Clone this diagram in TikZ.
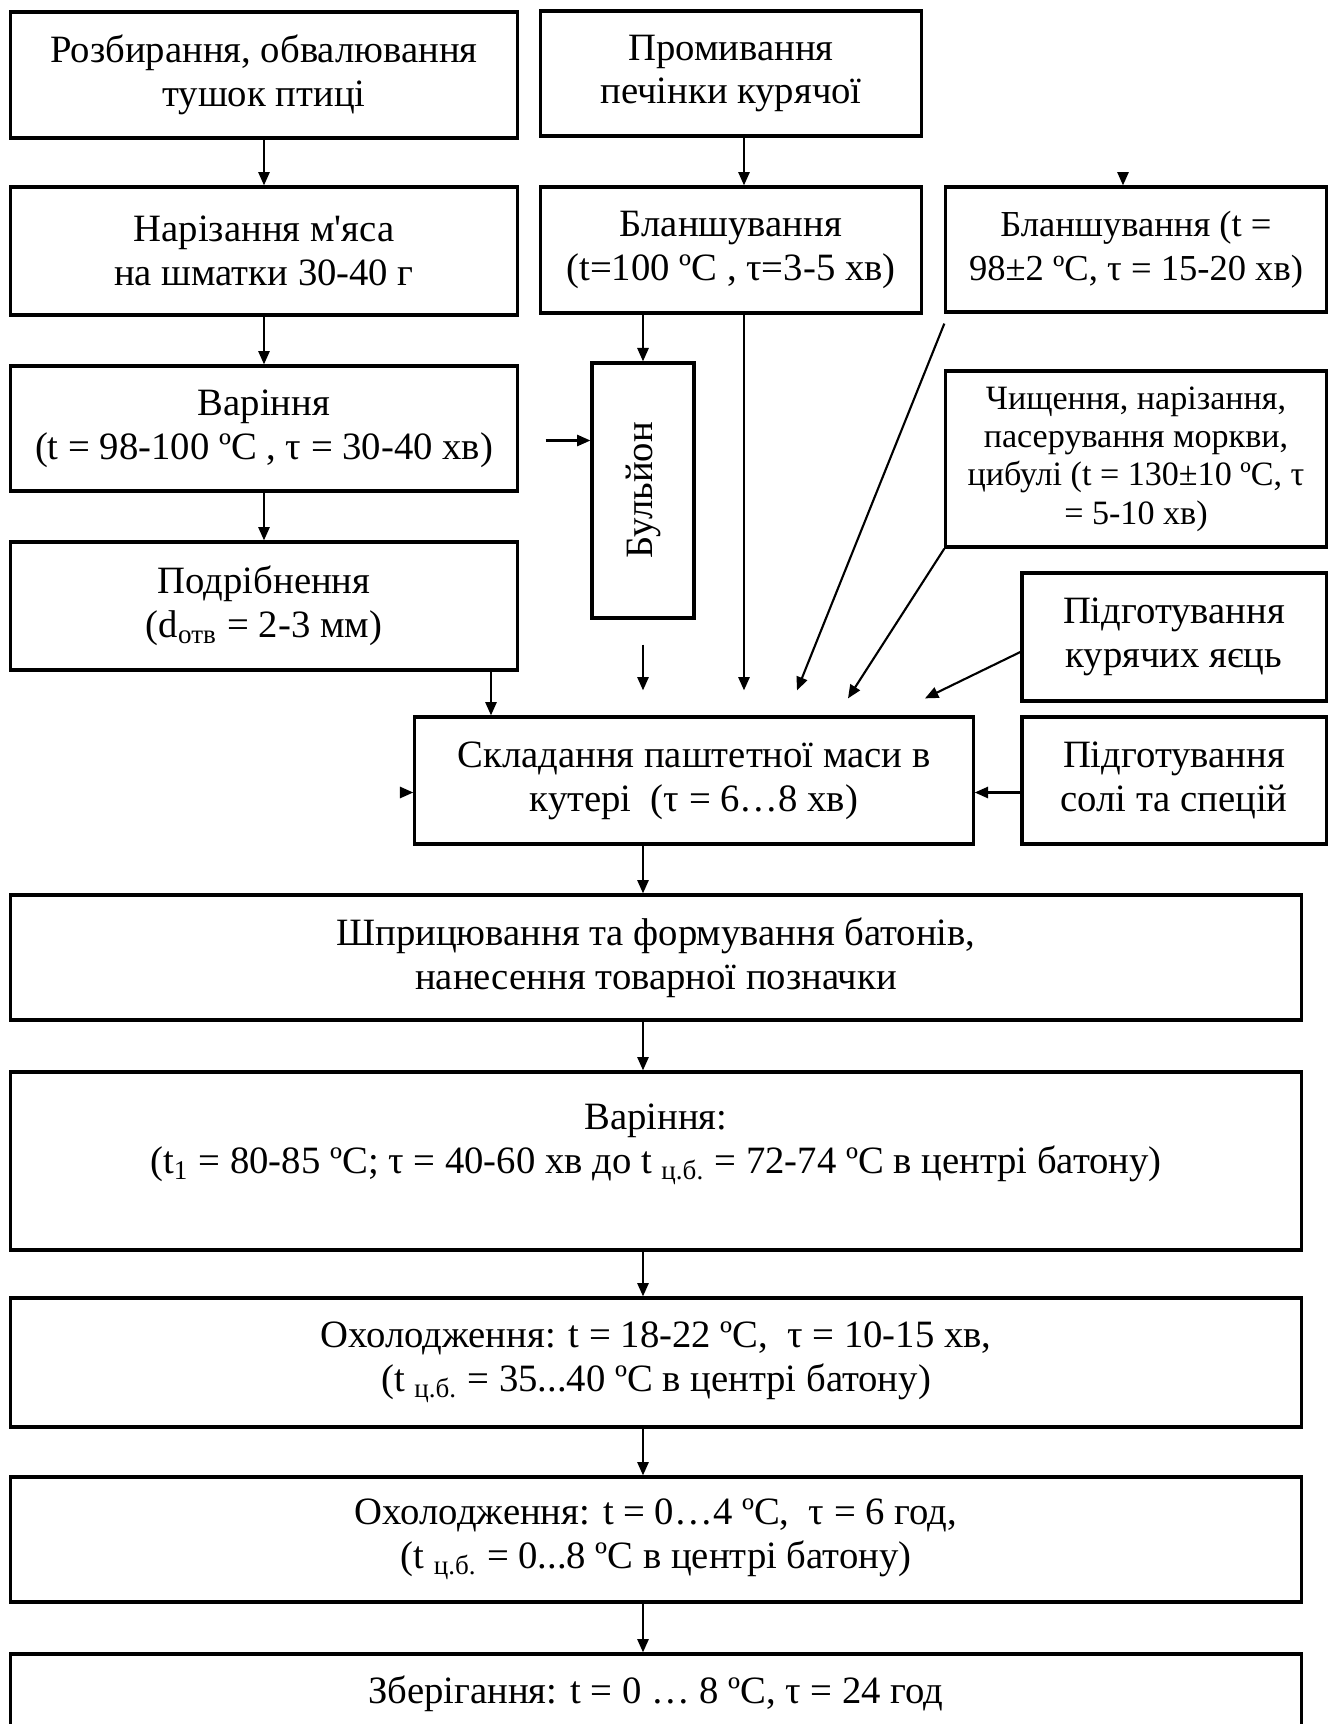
\documentclass[tikz,border=0pt]{standalone}
\usepackage{fontspec}
\setmainfont{Liberation Serif}
\usepackage{graphicx}
\usetikzlibrary{calc,arrows.meta}
\tikzset{
	box/.style={draw, line width=0.9pt, align=center, inner sep=0pt, font=\fontsize{11}{12.5}\selectfont},
	arr/.style={line width=0.6pt, -{Triangle[length=3.8pt,width=3.2pt]}}
}
\begin{document}
\begin{tikzpicture}[x=0.01cm, y=-0.01cm]
			%%%%% START %%%%%
			\useasboundingbox (0, 0) rectangle (1331, 1724);
			\clip (0, 0) rectangle (1331, 1724);
			
			\node[box, minimum width=5.06cm, minimum height=1.26cm] (razb) at (264, 75) {Розбирання, обвалювання\\тушок птиці};
			\node[box, minimum width=3.80cm, minimum height=1.25cm] (promyv) at (731, 73.5) {Промивання\\печінки курячої};
			
			\node[box, minimum width=5.06cm, minimum height=1.28cm] (nariz) at (264, 251) {Нарізання м\textquotesingle яса\\на шматки 30-40 г};
			\node[box, minimum width=3.80cm, minimum height=1.26cm] (blansh) at (731, 250) {Бланшування\\(t=100 ºC , τ=3-5 хв)};
			\node[box, minimum width=3.80cm, minimum height=1.25cm, font=\fontsize{10.4}{12.4}\selectfont] (blanshb) at (1136, 249.5) {Бланшування (t =\\98±2 ºC, τ = 15-20 хв)};
			
			\node[box, minimum width=5.06cm, minimum height=1.25cm] (varinnia) at (264, 428.5) {Варіння\\(t = 98-100 ºC , τ = 30-40 хв)};
			\node[box, minimum width=1.02cm, minimum height=2.55cm] (bulion) at (643, 490.5) {\rotatebox{90}{Бульйон}};
			\node[box, minimum width=3.80cm, minimum height=1.76cm, font=\fontsize{9.7}{10.9}\selectfont] (chysch) at (1136, 459) {Чищення, нарізання,\\пасерування моркви,\\цибулі (t = 130±10 ºC, τ\\= 5-10 хв)};
			
			\node[box, minimum width=5.06cm, minimum height=1.28cm] (podrib) at (264, 606) {Подрібнення\\(d\textsubscript{отв} = 2-3 мм)};
			\node[box, minimum width=3.04cm, minimum height=1.28cm] (yaitsia) at (1174, 637) {Підготування\\курячих яєць};
			
			\node[box, minimum width=5.58cm, minimum height=1.27cm] (kuter) at (694, 780.5) {Складання паштетної маси в\\кутері~ (τ = 6…8 хв)};
			\node[box, minimum width=3.04cm, minimum height=1.27cm] (sil) at (1174, 780.5) {Підготування\\солі та спецій};
			
			\node[box, minimum width=12.90cm, minimum height=1.25cm] (shpryts) at (656, 957.5) {Шприцювання та формування батонів,\\нанесення товарної позначки};
			\node[box, minimum width=12.90cm, minimum height=1.78cm] (varinnia2) at (656, 1161) {Варіння:\\(t\textsubscript{1} = 80-85 ºC; τ = 40-60 хв до t \textsubscript{ц.б.} = 72-74 ºC в центрі батону)\\\mbox{}};
			\node[box, minimum width=12.90cm, minimum height=1.29cm] (okhol) at (656, 1362.5) {Охолодження: t = 18-22 ºC,~ τ = 10-15 хв,\\(t \textsubscript{ц.б.} = 35...40 ºC в центрі батону)};
			\node[box, minimum width=12.90cm, minimum height=1.25cm] (okholb) at (656, 1539.5) {Охолодження: t = 0…4 ºC,~ τ = 6 год,\\(t \textsubscript{ц.б.} = 0...8 ºC в центрі батону)};
			\node[box, minimum width=12.90cm, minimum height=0.80cm] (zberig) at (656, 1694) {Зберігання: t = 0 … 8 ºC, τ = 24 год};
			
			% left column
			\draw[arr] (razb.south) -- (nariz.north);
			\draw[arr] (nariz.south) -- (varinnia.north);
			\draw[arr] (varinnia.south) -- (podrib.north);
			\draw[arr] ($(podrib.south)+(227, 0)$) coordinate (p1) -- (p1 |- kuter.north);
			
			% middle column
			\draw[arr] ($(promyv.south)+(13, 0)$) -- ($(blansh.north)+(13, 0)$);
			\draw[arr] (bulion.north |- blansh.south) -- (bulion.north);
			\draw[arr] ($(varinnia.east)+(27, 12)$) coordinate (v1) -- (v1 -| bulion.west);
			\draw[arr] ($(bulion.south)+(0, 25)$) -- ($(bulion.south |- kuter.north)+(0, -25)$);
			\draw[arr] ($(blansh.south)+(13, 0)$) coordinate (b1) -- ($(b1 |- kuter.north)+(0, -25)$);
			
			% right column
			\draw[arr] ($(blanshb.north)+(-13, -11)$) -- ($(blanshb.north)+(-13, 0)$);
			\draw[arr] ($(blanshb.south west)+(0, 10)$) -- ($(kuter.north)+(103, -25)$);
			\draw[arr] (chysch.south west) -- ($(kuter.north)+(154, -17)$);
			\draw[arr] ($(yaitsia.west)+(0, 15)$) -- ($(kuter.north)+(231, -17)$);
			\draw[arr] ($(sil.west)+(0, 12)$) coordinate (s1) -- (s1 -| kuter.east);
			\draw[arr] ($(kuter.west)+(-9, 12)$) -- ($(kuter.west)+(0, 12)$);
			
			% main line
			\draw[arr] ($(kuter.south)+(-51, 0)$) coordinate (k1) -- (k1 |- shpryts.north);
			\foreach \a/\b in {shpryts/varinnia2, varinnia2/okhol, okhol/okholb, okholb/zberig}
				\draw[arr] ($(\a.south)+(-13, 0)$) -- ($(\b.north)+(-13, 0)$);
			
			%%%%% END %%%%%
\end{tikzpicture}
\end{document}
